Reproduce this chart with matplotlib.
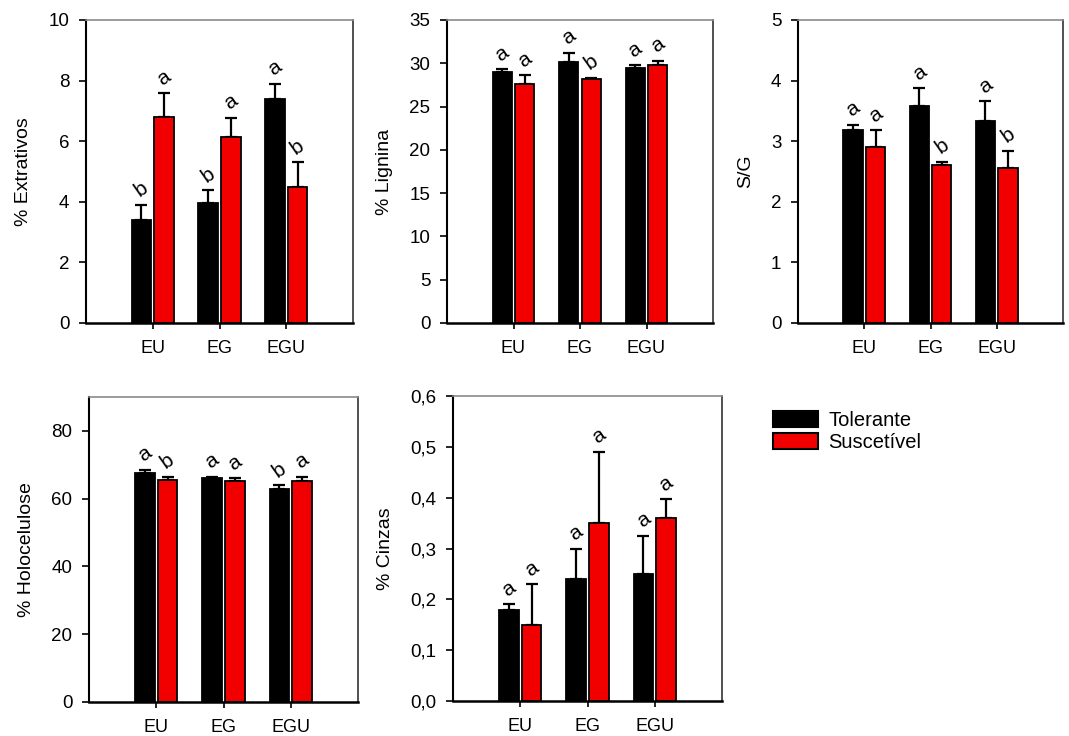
import numpy as np
import matplotlib.pyplot as plt
from matplotlib.patches import Patch

plt.rcParams['font.family'] = ['Liberation Sans', 'DejaVu Sans']

grupos = ['EU', 'EG', 'EGU']
series = ['Tolerante', 'Suscetível']

# % Extrativos
extr_tol = [3.40, 3.95, 7.38]
extr_tol_err = [0.50, 0.43, 0.52]
extr_sus = [6.80, 6.15, 4.48]
extr_sus_err = [0.78, 0.62, 0.82]
extr_let_tol = ['b', 'b', 'a']
extr_let_sus = ['a', 'a', 'b']

# % Lignina
lig_tol = [29.0, 30.1, 29.5]
lig_tol_err = [0.3, 1.1, 0.3]
lig_sus = [27.6, 28.2, 29.8]
lig_sus_err = [1.0, 0.15, 0.5]
lig_let_tol = ['a', 'a', 'a']
lig_let_sus = ['a', 'b', 'a']

# S/G
sg_tol = [3.18, 3.58, 3.33]
sg_tol_err = [0.09, 0.29, 0.33]
sg_sus = [2.91, 2.61, 2.55]
sg_sus_err = [0.27, 0.05, 0.29]
sg_let_tol = ['a', 'a', 'a']
sg_let_sus = ['a', 'b', 'b']

# % Holocelulose
holo_tol = [67.5, 66.0, 63.0]
holo_tol_err = [1.0, 0.5, 1.0]
holo_sus = [65.5, 65.3, 65.2]
holo_sus_err = [1.0, 0.7, 1.3]
holo_let_tol = ['a', 'a', 'b']
holo_let_sus = ['b', 'a', 'a']

# % Cinzas
cinz_tol = [0.18, 0.24, 0.25]
cinz_tol_err = [0.01, 0.06, 0.075]
cinz_sus = [0.15, 0.35, 0.36]
cinz_sus_err = [0.08, 0.14, 0.037]
cinz_let_tol = ['a', 'a', 'a']
cinz_let_sus = ['a', 'a', 'a']
cinz_ticks = [0.0, 0.1, 0.2, 0.3, 0.4, 0.5, 0.6]
cinz_ticklabels = ['0,0', '0,1', '0,2', '0,3', '0,4', '0,5', '0,6']

cores = ['black', '#f20000']
W, H = 1069, 736


def painel(rect_px, tol, tol_err, sus, sus_err, let_tol, let_sus,
           ylabel, ymax, yticks, yticklabels=None):
    l, r, t, b = rect_px
    ax = fig.add_axes([l / W, 1 - b / H, (r - l) / W, (b - t) / H])
    x = np.arange(1, len(grupos) + 1)
    larg = 0.29
    for vals, errs, lets, off, cor in [(tol, tol_err, let_tol, -0.17, cores[0]),
                                       (sus, sus_err, let_sus, 0.17, cores[1])]:
        ax.bar(x + off, vals, width=larg, color=cor, edgecolor='black',
               linewidth=1.3, zorder=2)
        ax.errorbar(x + off, vals, yerr=[np.zeros(len(vals)), errs], fmt='none',
                    ecolor='black', elinewidth=1.6, capsize=4.5, capthick=1.6,
                    zorder=1)
        for xi, v, e, s in zip(x + off, vals, errs, lets):
            ax.annotate(s, (xi, v + e), xytext=(0, 11), textcoords='offset points',
                        ha='center', va='center', rotation=35, fontsize=15)
    ax.set_xlim(0, 4)
    ax.set_ylim(0, ymax)
    ax.set_xticks(x)
    ax.set_xticklabels(grupos, fontsize=13)
    ax.set_yticks(yticks)
    if yticklabels is not None:
        ax.set_yticklabels(yticklabels)
    ax.tick_params(axis='y', direction='out', length=5, width=1.2, labelsize=13.5, pad=7)
    ax.tick_params(axis='x', direction='out', length=4, width=1.2, pad=8)
    ax.set_ylabel(ylabel, fontsize=14, labelpad=12)
    ax.spines['left'].set_linewidth(1.5)
    ax.spines['bottom'].set_linewidth(1.8)
    ax.spines['top'].set_color('#8a8a8a')
    ax.spines['top'].set_linewidth(1.2)
    ax.spines['right'].set_color('#333333')
    ax.spines['right'].set_linewidth(1.2)
    return ax


fig = plt.figure(figsize=(10.69, 7.36), dpi=100)

painel((86, 353, 20, 323), extr_tol, extr_tol_err, extr_sus, extr_sus_err,
       extr_let_tol, extr_let_sus, '% Extrativos', 10, [0, 2, 4, 6, 8, 10])
painel((447, 713, 20, 323), lig_tol, lig_tol_err, lig_sus, lig_sus_err,
       lig_let_tol, lig_let_sus, '% Lignina', 35, [0, 5, 10, 15, 20, 25, 30, 35])
painel((798, 1063, 20, 323), sg_tol, sg_tol_err, sg_sus, sg_sus_err,
       sg_let_tol, sg_let_sus, 'S/G', 5, [0, 1, 2, 3, 4, 5])
painel((89, 358, 397, 702), holo_tol, holo_tol_err, holo_sus, holo_sus_err,
       holo_let_tol, holo_let_sus, '% Holocelulose', 90, [0, 20, 40, 60, 80])
painel((453, 722, 396, 701), cinz_tol, cinz_tol_err, cinz_sus, cinz_sus_err,
       cinz_let_tol, cinz_let_sus, '% Cinzas', 0.6, cinz_ticks, cinz_ticklabels)

handles = [Patch(facecolor=c, edgecolor='black', linewidth=1.5) for c in cores]
fig.legend(handles, series, loc='upper left', bbox_to_anchor=(773 / W, 1 - 411 / H),
           frameon=False, fontsize=14.5, handlelength=2.25, handleheight=0.8,
           handletextpad=0.5, labelspacing=0.15, borderpad=0, borderaxespad=0)

fig.savefig('out.png', dpi=100)
